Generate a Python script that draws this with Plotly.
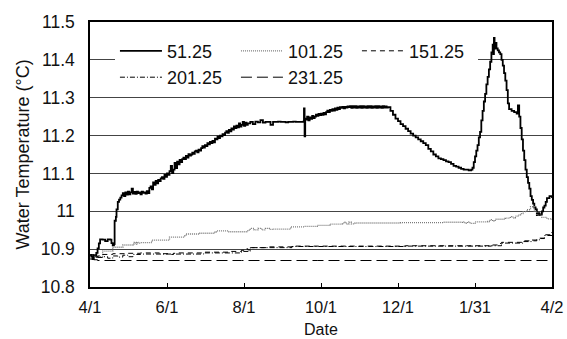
import pandas as pd
import plotly.graph_objects as go

# Day offsets are counted from the first logging day (April 1).
START = pd.Timestamp("2006-04-01")

tick_dates = ["2006-04-01", "2006-06-01", "2006-08-01", "2006-10-01",
              "2006-12-01", "2007-01-31", "2007-04-02"]
tick_labels = ["4/1", "6/1", "8/1", "10/1", "12/1", "1/31", "4/2"]

y_ticks = [10.8, 10.9, 11.0, 11.1, 11.2, 11.3, 11.4, 11.5]
y_tick_labels = ["10.8", "10.9", "11", "11.1", "11.2", "11.3", "11.4", "11.5"]

# --- depth 51.25 m -----------------------------------------------------------
days_51 = [
    0, 1, 2, 3, 4, 5, 6, 7, 8, 10, 12, 14, 16, 17, 18, 19, 19.5, 20.5, 21, 22, 23, 24, 25,
    26, 27, 28, 29, 30, 31, 32, 33, 34, 35, 36, 37, 38, 39, 40, 41, 42, 43, 44, 45, 46,
    47, 48, 49, 50, 51, 52, 53, 54,
    55, 56, 57, 58, 59, 60, 61, 62, 63, 64, 65, 66, 67, 68, 69, 70, 71, 72, 73, 74,
    75, 76, 77, 78, 79, 80, 81, 82, 83, 84, 85, 86, 87, 88, 89, 90, 91, 92, 93, 94,
    95, 96, 97, 98, 99, 100, 101, 102, 103, 104, 105, 106, 107, 108, 109, 110, 111, 112,
    113, 114, 115, 116, 117, 118, 119, 120, 121, 122, 123, 124,
    125, 127, 129, 131, 133, 135, 137, 139, 141, 143, 145, 147, 149, 151, 153, 155, 157,
    159, 161, 163, 165, 167, 169, 169.5, 170, 170.5,
    171, 172, 173, 174, 175, 176, 177, 178, 179, 180, 181, 182, 183, 184, 185, 186, 187,
    188, 189, 190, 191, 192, 193, 194, 195, 196, 197, 198, 199, 200, 201, 202, 203, 204, 205,
    206, 207, 208, 209, 210, 211, 212, 213, 214, 215, 216, 217, 218, 219, 220, 221, 222,
    223, 224, 225, 226, 227, 228, 229, 230, 231, 232, 233, 234, 235, 236,
    238, 240, 242, 244, 246, 248, 250, 252, 254, 256, 258, 260, 262, 264, 266, 268, 270,
    272, 274, 276, 278, 280, 282, 284, 286, 288, 290, 292, 294, 296, 298, 300, 302,
    303, 304, 305, 306, 307, 308, 309, 310, 311, 312, 313, 314, 315, 316, 317, 318, 319,
    319.5, 320, 320.5, 321, 322, 323, 324, 325, 326, 327, 328, 329, 330, 331, 332, 334,
    336, 338, 339, 340, 341, 342, 343, 344, 345, 346, 347, 348, 349, 350, 351, 352, 353,
    354, 355, 356, 357, 358, 359, 360, 361, 362, 363, 364, 365, 366,
]
temp_51 = [
    10.885, 10.880, 10.874, 10.884, 10.881, 10.890, 10.902, 10.915, 10.926, 10.925, 10.921,
    10.926, 10.925, 10.916, 10.910, 10.913, 10.975, 10.985, 11.005, 11.025, 11.031, 11.036,
    11.042,
    11.048, 11.040, 11.050, 11.044, 11.052, 11.045, 11.050, 11.060, 11.047, 11.051, 11.046,
    11.052, 11.048, 11.050, 11.045, 11.052, 11.049, 11.050, 11.047, 11.053, 11.048, 11.062,
    11.066, 11.058, 11.076, 11.070, 11.080, 11.074, 11.083,
    11.080, 11.087, 11.090, 11.086, 11.096, 11.091, 11.100, 11.096, 11.106, 11.120,
    11.101, 11.110, 11.128, 11.114, 11.131, 11.124, 11.136, 11.130, 11.138, 11.142,
    11.138, 11.146, 11.142, 11.151, 11.147, 11.150, 11.155, 11.152, 11.158, 11.160,
    11.156, 11.163, 11.160, 11.167, 11.172, 11.168, 11.175, 11.172, 11.180, 11.177,
    11.183, 11.180, 11.186, 11.182, 11.192, 11.190, 11.197, 11.193, 11.200, 11.198,
    11.204, 11.201, 11.208, 11.212, 11.207, 11.215, 11.211, 11.219, 11.216, 11.224,
    11.220, 11.226, 11.222, 11.232, 11.224, 11.228, 11.236, 11.226, 11.234, 11.228,
    11.232, 11.236, 11.230, 11.237, 11.235, 11.241, 11.234, 11.236, 11.236, 11.228,
    11.236, 11.236, 11.237, 11.236, 11.236, 11.235, 11.236, 11.236, 11.237, 11.236,
    11.236, 11.236, 11.237, 11.272, 11.198, 11.245,
    11.242, 11.250, 11.240, 11.248, 11.244, 11.252, 11.246, 11.250, 11.255, 11.252,
    11.257, 11.254, 11.258, 11.255, 11.260, 11.256, 11.262, 11.266, 11.262, 11.268,
    11.265, 11.270, 11.266, 11.272, 11.268, 11.274, 11.270, 11.275, 11.273, 11.276,
    11.272, 11.276, 11.274, 11.277, 11.275,
    11.278, 11.273, 11.278, 11.274, 11.278, 11.273, 11.277, 11.274, 11.278, 11.273,
    11.278, 11.274, 11.277, 11.273, 11.278, 11.274, 11.278, 11.273, 11.277, 11.274,
    11.278, 11.273, 11.278, 11.274, 11.277, 11.273, 11.278, 11.274, 11.277, 11.274,
    11.275,
    11.265, 11.255, 11.245, 11.238, 11.230, 11.225, 11.218, 11.212, 11.205, 11.200, 11.195,
    11.190, 11.185, 11.180, 11.175, 11.165, 11.158, 11.150, 11.145, 11.140, 11.138, 11.135,
    11.132, 11.130, 11.125, 11.120, 11.118, 11.115, 11.112, 11.110, 11.110, 11.108, 11.110,
    11.115, 11.130, 11.145, 11.160, 11.175, 11.195, 11.210, 11.240, 11.265, 11.290, 11.310,
    11.335, 11.355, 11.375, 11.395, 11.420, 11.440,
    11.415, 11.458, 11.430, 11.445, 11.430, 11.425, 11.420, 11.415, 11.400, 11.385, 11.365,
    11.345, 11.320, 11.285, 11.270, 11.265,
    11.262, 11.258, 11.280, 11.250, 11.220, 11.190, 11.160, 11.135, 11.110, 11.090, 11.075,
    11.060, 11.040, 11.030, 11.020, 11.010, 11.005,
    10.990, 10.995, 10.990, 10.992, 11.000, 11.010, 11.015, 11.025, 11.035, 11.035, 11.040,
    11.040, 11.035,
]

# --- depth 101.25 m ----------------------------------------------------------
days_101 = [0, 4, 10, 18, 26, 34, 35, 36, 37, 38, 40, 49, 63, 75, 76, 87, 99, 100,
            110, 125, 127, 130, 133, 136, 139, 142, 145, 159, 170, 180, 190, 200, 201,
            203, 205, 207, 210, 220, 246, 280, 295, 297, 299, 301, 305, 315, 317, 319,
            321, 329, 333, 335, 337, 339, 341, 343, 346, 349, 352, 354, 358, 362, 366]
temp_101 = [10.885, 10.880, 10.895, 10.905, 10.911, 10.914, 10.918, 10.913, 10.918,
            10.916, 10.917, 10.924, 10.932, 10.935, 10.940, 10.942, 10.945, 10.948,
            10.946, 10.950, 10.955, 10.951, 10.955, 10.951, 10.955, 10.952, 10.953,
            10.959, 10.960, 10.963, 10.966, 10.967, 10.971, 10.966, 10.971, 10.967,
            10.969, 10.969, 10.970, 10.971, 10.972, 10.968, 10.972, 10.968, 10.972,
            10.973, 10.978, 10.974, 10.979, 10.982, 10.986, 10.982, 10.987, 10.990,
            10.994, 10.999, 11.004, 11.012, 11.000, 10.990, 10.984, 10.980, 10.977]

# --- depth 151.25 m ----------------------------------------------------------
days_151 = [0, 3, 6, 10, 18, 30, 40, 55, 64, 66, 70, 90, 110, 120, 123, 125, 127,
            140, 160, 200, 250, 300, 318, 324, 326, 343, 354, 360, 366]
temp_151 = [10.885, 10.878, 10.882, 10.886, 10.888, 10.889, 10.890, 10.888, 10.886,
            10.889, 10.890, 10.892, 10.894, 10.897, 10.901, 10.898, 10.904, 10.906,
            10.908, 10.908, 10.909, 10.909, 10.911, 10.915, 10.918, 10.922, 10.929,
            10.938, 10.945]

# --- depth 201.25 m ----------------------------------------------------------
days_201 = [0, 5, 10, 14, 18, 22, 26, 30, 34, 40, 60, 90, 120, 127, 160, 250, 318,
            326, 343, 350, 356, 360, 366]
temp_201 = [10.884, 10.878, 10.880, 10.876, 10.882, 10.879, 10.884, 10.880, 10.886,
            10.887, 10.887, 10.890, 10.894, 10.904, 10.907, 10.908, 10.909, 10.916,
            10.920, 10.924, 10.928, 10.936, 10.948]

# --- depth 231.25 m ----------------------------------------------------------
days_231 = [0, 3, 6, 60, 120, 180, 240, 300, 366]
temp_231 = [10.874, 10.872, 10.870, 10.870, 10.870, 10.870, 10.870, 10.870, 10.870]


def to_dates(days):
    return [START + pd.Timedelta(days=d) for d in days]


series = [
    # name, days, temps, colour, width, dash, legend rank
    ("51.25", days_51, temp_51, "#000000", 1.8, "solid", 1),
    ("101.25", days_101, temp_101, "#7a7a7a", 1.3, "1px,1px", 2),
    ("201.25", days_201, temp_201, "#000000", 1.0, "5px,2px,1px,2px", 4),
    ("151.25", days_151, temp_151, "#000000", 1.0, "5px,4px", 3),
    ("231.25", days_231, temp_231, "#000000", 1.0, "11px,5px", 5),
]

fig = go.Figure()
for name, d, t, colour, width, dash, rank in series:
    fig.add_trace(go.Scatter(
        x=to_dates(d), y=t, name=name, mode="lines", legendrank=rank,
        line=dict(color=colour, width=width, dash=dash, shape="hv"),
    ))

FONT = "Liberation Sans, Arial, sans-serif"

fig.update_layout(
    width=567, height=339,
    margin=dict(l=90, r=15, t=22, b=52),
    paper_bgcolor="white", plot_bgcolor="white",
    font=dict(family=FONT, size=17, color="#111111"),
    showlegend=True,
    legend=dict(
        orientation="h", x=0.054, y=0.96, xanchor="left", yanchor="top",
        bgcolor="white", borderwidth=0, font=dict(size=18),
        entrywidth=64, itemwidth=42, traceorder="normal",
    ),
    xaxis=dict(
        type="date", range=[tick_dates[0], tick_dates[-1]],
        tickvals=tick_dates, ticktext=tick_labels,
        ticks="inside", ticklen=4, tickcolor="#000", tickwidth=1,
        showgrid=False, zeroline=False, automargin=False,
        showline=True, linecolor="#000", linewidth=1.5, mirror=True,
        tickfont=dict(size=16.5), ticklabelstandoff=4,
    ),
    yaxis=dict(
        range=[10.8, 11.5], tickvals=y_ticks, ticktext=y_tick_labels,
        ticks="", showgrid=True, gridcolor="#444444", gridwidth=1,
        zeroline=False, showline=True, linecolor="#000", linewidth=1.5, mirror=True,
        automargin=False,
        tickfont=dict(size=17.5), ticklabelstandoff=10,
        title=dict(text="Water Temperature (°C)", font=dict(size=18), standoff=6),
    ),
    annotations=[dict(
        text="Date", xref="paper", yref="paper", x=0.5, y=-0.1585,
        xanchor="center", yanchor="middle", showarrow=False,
        font=dict(size=16), borderpad=0,
    )],
)

fig.write_html("out.html")
